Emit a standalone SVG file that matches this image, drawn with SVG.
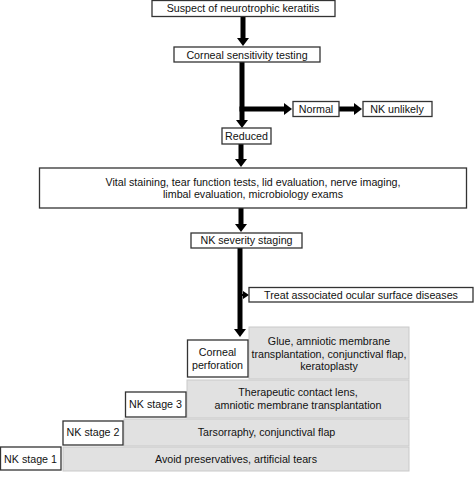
<svg xmlns="http://www.w3.org/2000/svg" width="474" height="489" viewBox="0 0 474 489">
<style>
text{font-family:"Liberation Sans",Arial,sans-serif;font-size:10.7px;fill:#111;text-anchor:middle}
.wb{fill:#fff;stroke:#333;stroke-width:1.3}
.gb{fill:#e1e1e1;stroke:#c9c9c9;stroke-width:1}
.ar{stroke:#000;stroke-width:5;fill:none}
</style>
<defs>
<marker id="ah" markerUnits="userSpaceOnUse" markerWidth="8" markerHeight="12" refX="1" refY="6" orient="auto">
<path d="M0,0 L8,6 L0,12 z" fill="#000"/>
</marker>
<marker id="ahs" markerUnits="userSpaceOnUse" markerWidth="6" markerHeight="8" refX="1" refY="4" orient="auto">
<path d="M0,0 L6,4 L0,8 z" fill="#000"/>
</marker>
</defs>
<rect width="474" height="489" fill="#fff"/>
<g id="connectors">
<line class="ar" x1="243" y1="16" x2="243" y2="39" marker-end="url(#ah)"/>
<line class="ar" x1="242" y1="62" x2="242" y2="121" marker-end="url(#ah)"/>
<line class="ar" x1="239.5" y1="109" x2="285" y2="109" marker-end="url(#ah)"/>
<line class="ar" x1="339" y1="109" x2="355" y2="109" marker-end="url(#ah)"/>
<line class="ar" x1="241" y1="144" x2="241" y2="160" marker-end="url(#ah)"/>
<line class="ar" x1="241" y1="208" x2="241" y2="225" marker-end="url(#ah)"/>
<line class="ar" x1="240" y1="248" x2="240" y2="330" marker-end="url(#ah)"/>
<line stroke="#000" stroke-width="2" x1="240" y1="295" x2="244" y2="295" marker-end="url(#ahs)"/>
</g>
<g id="suspect"><rect class="wb" x="152" y="0.5" width="183" height="16"/><text x="243" y="12">Suspect of neurotrophic keratitis</text></g>
<g id="sensitivity"><rect class="wb" x="174" y="47" width="146" height="15"/><text x="247" y="58.5">Corneal sensitivity testing</text></g>
<g id="normal"><rect class="wb" x="293" y="101.5" width="46" height="15"/><text x="316" y="113">Normal</text></g>
<g id="unlikely"><rect class="wb" x="363" y="101.5" width="69" height="15"/><text x="397" y="113">NK unlikely</text></g>
<g id="reduced"><rect class="wb" x="222" y="128" width="49" height="16"/><text x="246.5" y="140">Reduced</text></g>
<g id="tests"><rect class="wb" x="39.5" y="168" width="427" height="40"/><text x="253" y="185.5">Vital staining, tear function tests, lid evaluation, nerve imaging,</text><text x="253" y="198">limbal evaluation, microbiology exams</text></g>
<g id="staging"><rect class="wb" x="191" y="233" width="111" height="15"/><text x="246.5" y="244">NK severity staging</text></g>
<g id="treat"><rect class="wb" x="249" y="287.5" width="224" height="14.5"/><text x="361" y="299">Treat associated ocular surface diseases</text></g>
<g id="glue"><rect class="gb" x="249" y="327" width="160" height="52"/><text x="329" y="345">Glue, amniotic membrane</text><text x="329" y="357.5">transplantation, conjunctival flap,</text><text x="329" y="370">keratoplasty</text></g>
<g id="perforation"><rect class="wb" x="187.5" y="340" width="60.5" height="37"/><text x="217.5" y="356">Corneal</text><text x="217.5" y="368.5">perforation</text></g>
<g id="therapy3"><rect class="gb" x="187" y="380" width="222" height="38"/><text x="298" y="396">Therapeutic contact lens,</text><text x="298" y="409">amniotic membrane transplantation</text></g>
<g id="stage3"><rect class="wb" x="125.5" y="392" width="60.5" height="25"/><text x="155.5" y="408">NK stage 3</text></g>
<g id="therapy2"><rect class="gb" x="124" y="419" width="285" height="27"/><text x="266.5" y="436">Tarsorraphy, conjunctival flap</text></g>
<g id="stage2"><rect class="wb" x="63" y="421" width="60" height="24"/><text x="93" y="436">NK stage 2</text></g>
<g id="therapy1"><rect class="gb" x="63" y="447" width="346" height="24"/><text x="236" y="463">Avoid preservatives, artificial tears</text></g>
<g id="stage1"><rect class="wb" x="0.5" y="447" width="60.5" height="23"/><text x="30.5" y="463">NK stage 1</text></g>
</svg>
